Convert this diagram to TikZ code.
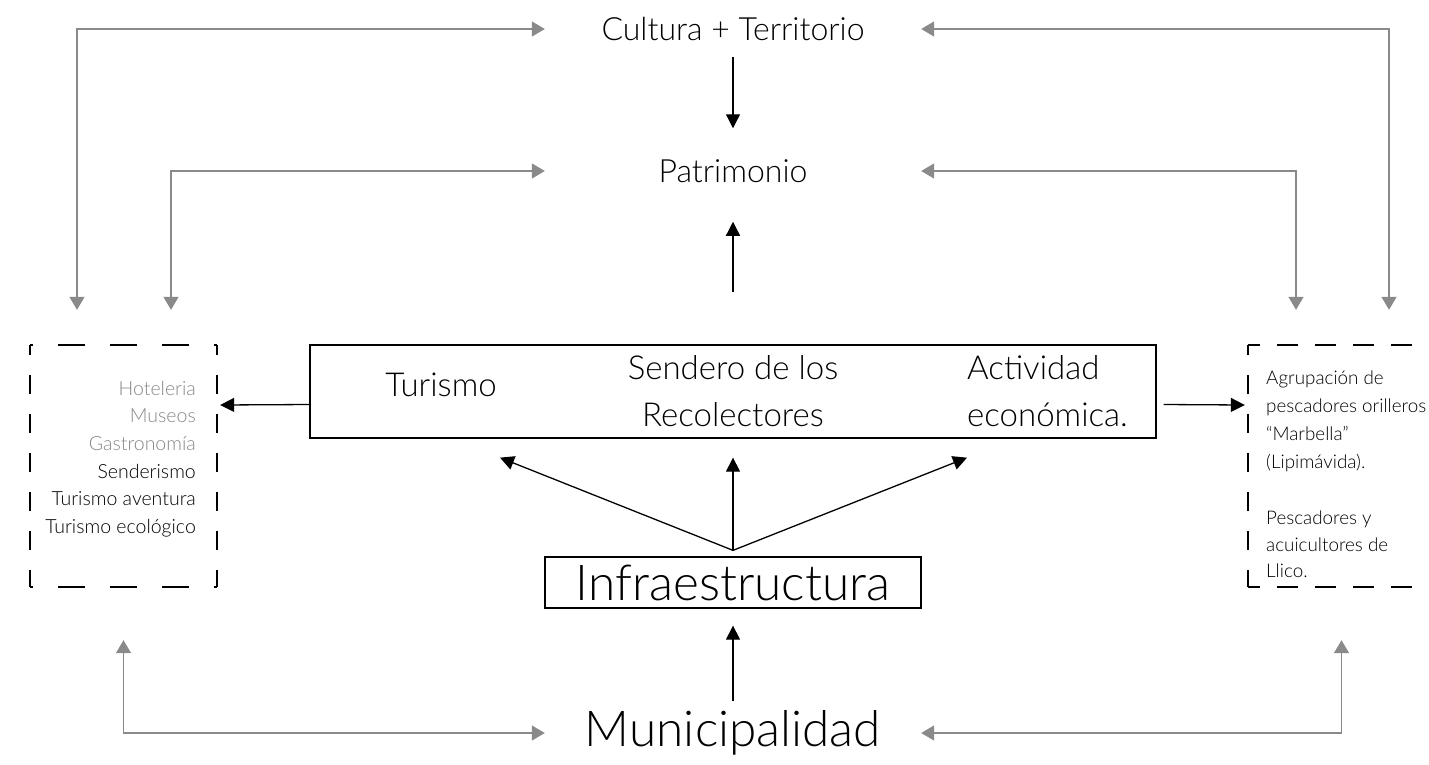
\documentclass[tikz,border=0pt]{standalone}
\usepackage{fontspec}
\IfFontExistsTF{Lato Light}{\setmainfont{Lato Light}}{\setmainfont{Lato}}
\usepackage{tikz}
\usepackage{xcolor}
\usetikzlibrary{arrows.meta}

\definecolor{lineagris}{HTML}{8A8A8A}
\definecolor{textogris}{HTML}{868686}

\tikzset{
  flecha/.style={-{Triangle[length=14pt,width=14pt]},line width=1.3pt},
  flechagris/.style={{Triangle[length=13pt,width=15pt]}-{Triangle[length=13pt,width=15pt]},draw=lineagris,line width=1.5pt},
  hdash/.style={line width=1.8pt,dash pattern=on 27pt off 25pt,dash phase=24pt},
  hdashlargo/.style={line width=1.8pt,dash pattern=on 21pt off 17pt,dash phase=9pt},
  vdash/.style={line width=1.8pt,dash pattern=on 19pt off 20pt,dash phase=9pt},
  columna/.style={inner sep=0pt,minimum width=376pt},
  lateral/.style={inner sep=0pt,minimum width=187pt,minimum height=242pt},
  grande/.style={font=\fontsize{49.5}{58}\selectfont},
  medio/.style={font=\fontsize{32}{38}\selectfont},
  caja/.style={anchor=base,inner sep=0pt,font=\fontsize{33}{40}\selectfont},
  chico/.style={inner sep=0pt,font=\fontsize{19.5}{23}\selectfont},
}

\begin{document}
\begin{tikzpicture}[x=1pt,y=-1pt]
  \useasboundingbox (0,0) rectangle (1429,764);
  \clip (0,0) rectangle (1429,764);
  % columna central
  \node[columna,medio] (cult) at (733,29) {Cultura + Territorio};
  \node[columna,medio] (patr) at (733,171) {Patrimonio};
  \node[draw,line width=1.3pt,inner sep=0pt,minimum width=846pt,minimum height=93pt] (eje) at (733,391.5) {};
  \node[caja] (tur) at (441,396) {Turismo};
  \node[caja] (send1) at (733,379) {Sendero de los};
  \node[caja] (send2) at (733,426) {Recolectores};
  \node[caja,anchor=base west] (act1) at (967,379) {Actividad};
  \node[caja,anchor=base west] (act2) at (967,426) {económica.};
  \node[draw,line width=1.3pt,columna,grande,minimum height=51pt] (infra) at (733,582.5) {Infraestructura};
  \node[columna,grande] (muni) at (733,733) {Municipalidad};
  % cajas laterales
  \node[lateral] (serv) at (123.5,466) {};
  \node[lateral] (pesc) at (1341.5,466) {};
  \draw[hdash] (serv.north west) -- (serv.north east);
  \draw[hdash] (serv.south west) -- (serv.south east);
  \draw[hdashlargo] (pesc.north west) -- (pesc.north east);
  \draw[hdashlargo] (pesc.south west) -- (pesc.south east);
  \foreach \c in {serv,pesc}{
    \draw[vdash] (\c.north west) -- (\c.south west);
    \draw[vdash] (\c.north east) -- (\c.south east);
  }
  \foreach \i/\lab/\col in {0/Hoteleria/textogris,1/Museos/textogris,2/Gastronomía/textogris,3/Senderismo/black,4/Turismo aventura/black,5/Turismo ecológico/black}{
    \node[chico,anchor=base east,text=\col] (s\i) at (196,395+\i*27.7) {\lab};
  }
  \foreach \i/\y/\lab in {0/384/{Agrupación de},1/412/{pescadores orilleros},2/440/{“Marbella”},3/468/{(Lipimávida).},4/524/{Pescadores y},5/551/{acuicultores de},6/577/{Llico.}}{
    \node[chico,font=\fontsize{18.8}{23}\selectfont,anchor=base west] (p\i) at (1266,\y) {\lab};
  }
  % flechas negras
  \draw[flecha,shorten <=16pt,shorten >=31pt] (cult) -- (patr);
  \draw[flecha,shorten <=52pt,shorten >=39pt] (eje) -- (patr);
  \draw[flecha] ([yshift=-13pt]eje.west) -- ([xshift=3pt,yshift=61pt]serv.east);
  \draw[flecha] ([xshift=7pt,yshift=-13pt]eje.east) -- ([xshift=-3pt,yshift=61pt]pesc.west);
  \foreach \dx in {-233,0,234}{
    \draw[flecha] ([yshift=6pt]infra.north) -- ([xshift=\dx pt,yshift=-19pt]eje.south);
  }
  \draw[flecha,shorten <=9pt,shorten >=17pt] (muni) -- (infra);
  % flechas grises
  \draw[flechagris,shorten >=35pt] (cult.west) -| ([xshift=-46.5pt]serv.north);
  \draw[flechagris,shorten >=35pt] (patr.west) -| ([xshift=47.5pt]serv.north);
  \draw[flechagris,shorten >=35pt] (cult.east) -| ([xshift=47.5pt]pesc.north);
  \draw[flechagris,shorten >=35pt] (patr.east) -| ([xshift=-45.5pt]pesc.north);
  \draw[flechagris,shorten >=53pt] (muni.west) -| (serv.south);
  \draw[flechagris,shorten >=53pt] (muni.east) -| (pesc.south);
\end{tikzpicture}
\end{document}
